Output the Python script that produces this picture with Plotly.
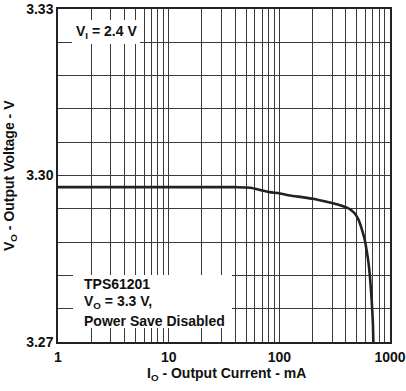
import plotly.graph_objects as go

# Data
current_mA = [1, 2, 5, 10, 20, 40, 55, 70, 82, 100, 125, 160, 201, 250, 305, 360, 408, 450, 483, 520, 555, 590, 615, 640, 659, 683, 700, 707]
voltage_V = [3.2979, 3.2979, 3.2979, 3.2979, 3.2979, 3.2979, 3.2978, 3.2973, 3.2970, 3.2968, 3.2964, 3.2961, 3.2958, 3.2954, 3.2950, 3.2946, 3.2942, 3.2937, 3.2931, 3.2920, 3.2904, 3.2885, 3.2865, 3.2842, 3.2817, 3.2775, 3.2735, 3.2700]

x_major = [1, 10, 100, 1000]
x_grid = [m * d for d in (1, 10, 100) for m in range(1, 10)] + [1000]
y_grid = [3.27 + 0.006 * i for i in range(11)]
y_labels = {0: "3.27", 5: "3.30", 10: "3.33"}

FONT = "Liberation Sans, Arial, sans-serif"
FS = 14
INK = "#111111"

# plot area in pixels
L, T, R, B = 58, 9, 390, 342
W, H = 406, 391


def px(x):
    return (x - L) / (R - L)


def py(y):
    return 1 - (y - T) / (B - T)


fig = go.Figure()
fig.add_trace(go.Scatter(x=current_mA, y=voltage_V, mode="lines",
                         line=dict(color="#222222", width=2.6, shape="spline", smoothing=0.6),
                         showlegend=False, hoverinfo="skip"))

fig.update_layout(
    width=W, height=H,
    margin=dict(l=L, r=W - R, t=T, b=H - B),
    paper_bgcolor="white", plot_bgcolor="white",
    font=dict(family=FONT, size=FS, color=INK),
    hovermode=False,
    xaxis=dict(type="log", range=[0, 3], automargin=False,
               tickvals=x_grid,
               ticktext=[str(v) if v in x_major else "" for v in x_grid],
               showgrid=True, gridcolor="#3a3a3a", gridwidth=1,
               showline=True, linecolor="#222222", linewidth=1.5, mirror=True,
               ticks="", zeroline=False, ticklabelstandoff=1,
               tickfont=dict(family=FONT, size=FS, color=INK, weight="bold")),
    yaxis=dict(range=[3.27, 3.33], automargin=False,
               tickvals=y_grid,
               ticktext=[y_labels.get(i, "") for i in range(len(y_grid))],
               showgrid=True, gridcolor="#3a3a3a", gridwidth=1,
               showline=True, linecolor="#222222", linewidth=1.5, mirror=True,
               ticks="", zeroline=False,
               tickfont=dict(family=FONT, size=FS, color=INK, weight="bold")),
)

# white label boxes covering the grid
for x0, y0, x1, y1 in [(72, 20, 140, 44), (73, 275, 232, 328)]:
    fig.add_shape(type="rect", xref="paper", yref="paper",
                  x0=px(x0), x1=px(x1), y0=py(y1), y1=py(y0),
                  fillcolor="white", line=dict(width=0), layer="above")


def label(text, x, y, xanchor="left", angle=0):
    fig.add_annotation(xref="paper", yref="paper", x=px(x), y=py(y),
                       text=text, showarrow=False, textangle=angle,
                       font=dict(family=FONT, size=FS, color=INK),
                       xanchor=xanchor, yanchor="middle")


label("<b>V<sub>I</sub> = 2.4 V</b>", 106, 32, xanchor="center")
label("<b>TPS61201</b>", 82, 284)
label("<b>V<sub>O</sub> = 3.3 V,</b>", 82, 302)
label("<b>Power Save Disabled</b>", 82, 321)

# axis titles
label("<b>I<sub>O</sub> - Output Current - mA</b>", 226, 374, xanchor="center")
label("<b>V<sub>O</sub> - Output Voltage - V</b>", 10, 176, xanchor="center", angle=-90)

fig.write_html("out.html", config={"displayModeBar": False},
               post_script="document.body.style.margin='0';")
